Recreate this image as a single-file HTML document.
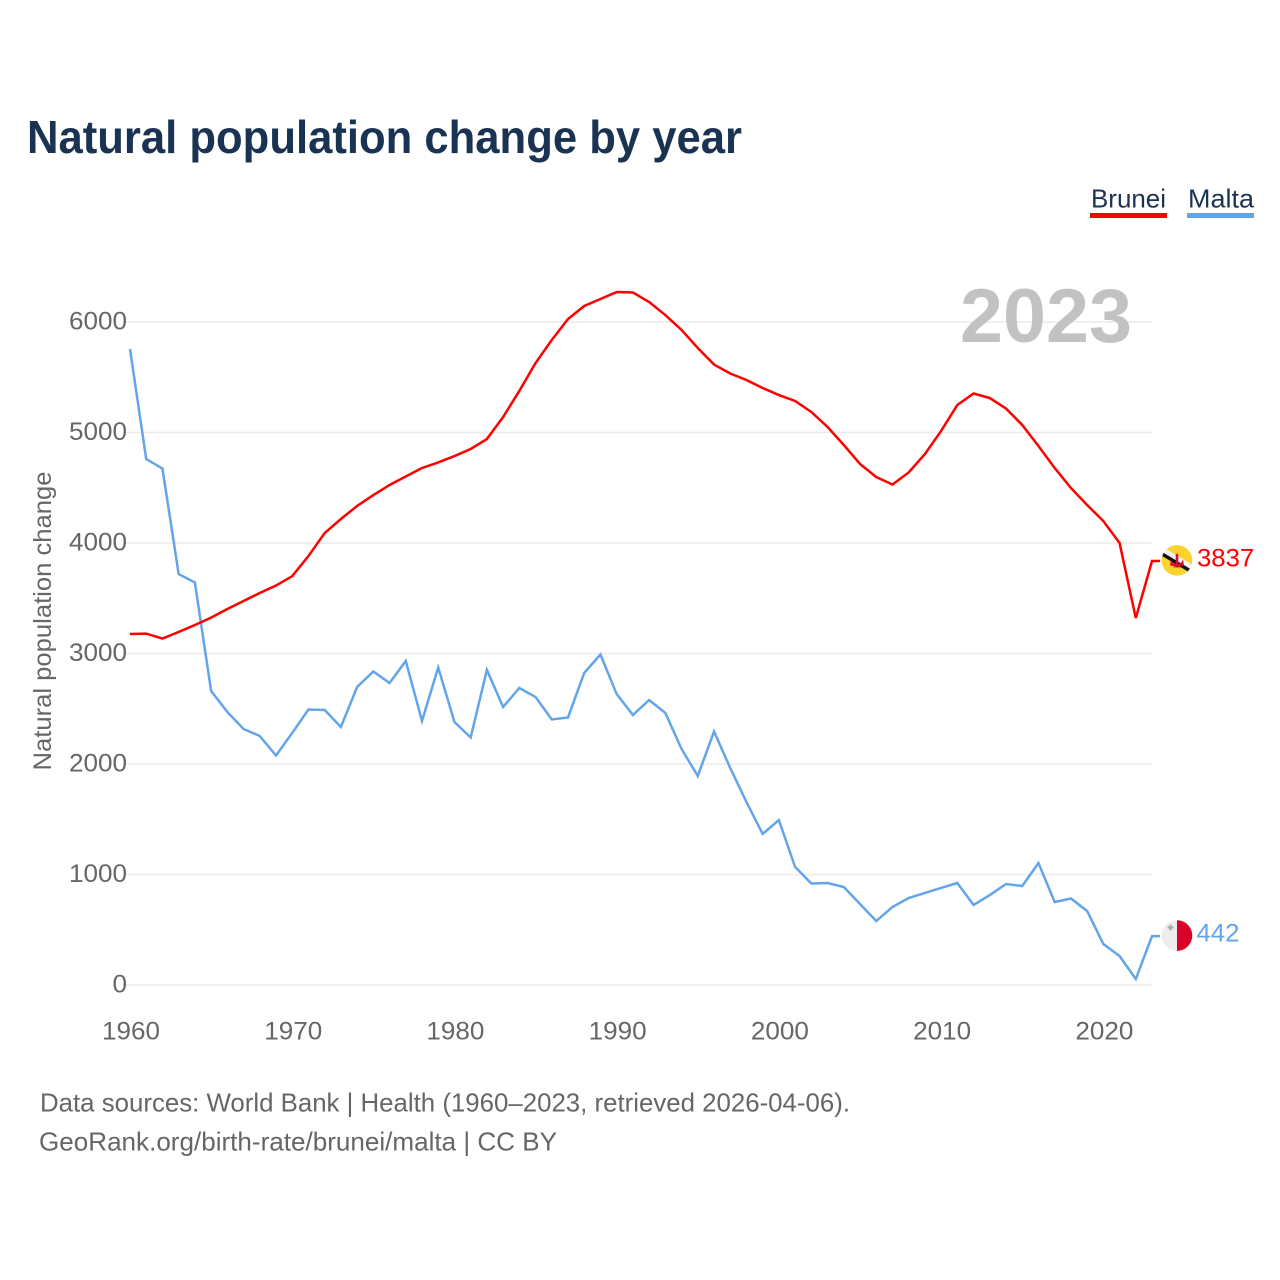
<!DOCTYPE html>
<html lang="en">
<head>
<meta charset="utf-8">
<title>Natural population change by year</title>
<style>
html,body{margin:0;padding:0;background:#fff;}
svg{display:block;font-family:"Liberation Sans",sans-serif;}
</style>
</head>
<body>
<svg id="chart" width="1280" height="1280" viewBox="0 0 1280 1280" xmlns="http://www.w3.org/2000/svg">
  <defs>
    <clipPath id="brunei-clip"><circle cx="0" cy="0" r="15.3"/></clipPath>
    <clipPath id="malta-clip"><circle cx="0" cy="0" r="15.3"/></clipPath>
  </defs>
  <rect width="1280" height="1280" fill="#fff"/>
  <text x="27" y="153" font-size="46" font-weight="700" fill="#1a3353" textLength="715" lengthAdjust="spacingAndGlyphs">Natural population change by year</text>
  <g>
    <text x="1091" y="207.5" font-size="26" fill="#1a3353" textLength="75" lengthAdjust="spacingAndGlyphs">Brunei</text>
    <rect x="1090" y="213" width="77" height="5" fill="#ff0000"/>
  </g>
  <g>
    <text x="1188" y="207.5" font-size="26" fill="#1a3353" textLength="66" lengthAdjust="spacingAndGlyphs">Malta</text>
    <rect x="1187" y="213" width="67" height="5" fill="#62a5ea"/>
  </g>
  <g id="grid"></g>
  <g id="yticks"></g>
  <g id="xticks"></g>
  <text transform="translate(51,621) rotate(-90)" text-anchor="middle" font-size="25" fill="#666" textLength="299" lengthAdjust="spacingAndGlyphs">Natural population change</text>
  <text x="960" y="342" font-size="76" font-weight="700" fill="#c2c2c2" textLength="172" lengthAdjust="spacingAndGlyphs">2023</text>
  <g id="series"></g>
  <g id="brunei-flag">
    <g clip-path="url(#brunei-clip)">
      <rect x="-16" y="-16" width="32" height="32" fill="#fcd22f"/>
      <polygon points="-18,-15.8 18,5.8 18,11.3 -18,-10.3" fill="#f2f2f2"/>
      <polygon points="-18,-10.3 18,11.3 18,15.3 -18,-6.3" fill="#111"/>
      <path d="M-6,-1 Q-4,4 0,4 Q4,4 6,-1 L7,5 L2,6 L4,7 L-4,7 L-2,6 L-7,5 Z" fill="#d40f34"/>
      <rect x="-1.3" y="-6.5" width="2.6" height="11" fill="#d40f34"/>
    </g>
  </g>
  <g id="malta-flag">
    <g clip-path="url(#malta-clip)">
      <rect x="-16" y="-16" width="16" height="32" fill="#ededed"/>
      <rect x="0" y="-16" width="16" height="32" fill="#d80027"/>
      <path d="M-7.5,-11 h2 v2 h2 v2 h-2 v2 h-2 v-2 h-2 v-2 h2 z" fill="#a8a8a8"/>
    </g>
  </g>
  <g id="end-labels"></g>
  <text x="40" y="1111.5" font-size="26" fill="#666" textLength="810" lengthAdjust="spacingAndGlyphs">Data sources: World Bank | Health (1960–2023, retrieved 2026-04-06).</text>
  <text x="39" y="1150.5" font-size="26" fill="#666" textLength="518" lengthAdjust="spacingAndGlyphs">GeoRank.org/birth-rate/brunei/malta | CC BY</text>
</svg>
<script>
const years = [1960,1961,1962,1963,1964,1965,1966,1967,1968,1969,1970,1971,1972,1973,1974,1975,1976,1977,1978,1979,1980,1981,1982,1983,1984,1985,1986,1987,1988,1989,1990,1991,1992,1993,1994,1995,1996,1997,1998,1999,2000,2001,2002,2003,2004,2005,2006,2007,2008,2009,2010,2011,2012,2013,2014,2015,2016,2017,2018,2019,2020,2021,2022,2023];
const bruneiValues = [3176,3180,3135,3195,3258,3325,3403,3475,3548,3615,3700,3882,4090,4217,4335,4434,4525,4602,4679,4729,4787,4851,4941,5140,5376,5629,5837,6027,6145,6208,6271,6267,6181,6063,5928,5765,5615,5534,5475,5403,5339,5285,5186,5050,4887,4715,4597,4529,4638,4805,5014,5249,5353,5312,5217,5068,4878,4679,4498,4344,4199,4000,3321,3837];
const maltaValues = [5756,4760,4674,3719,3643,2661,2471,2317,2253,2077,2281,2493,2489,2335,2697,2837,2733,2932,2389,2873,2380,2240,2851,2516,2688,2606,2403,2421,2824,2991,2633,2443,2579,2462,2136,1891,2294,1964,1656,1367,1493,1068,919,923,887,733,579,706,787,833,878,923,724,814,914,896,1104,751,783,670,371,262,54,442];
const yTickValues = [0,1000,2000,3000,4000,5000,6000];
const xTickValues = [1960,1970,1980,1990,2000,2010,2020];

const SVG_NS = 'http://www.w3.org/2000/svg';
function xScale(year) { return 130 + (year - 1960) * (1152 - 130) / 63; }
function yScale(value) { return 985 - value * (985 - 322) / 6000; }
function make(tag, attrs, parent) {
  const el = document.createElementNS(SVG_NS, tag);
  for (const k in attrs) el.setAttribute(k, attrs[k]);
  parent.appendChild(el);
  return el;
}
const grid = document.getElementById('grid');
const yticks = document.getElementById('yticks');
const xticks = document.getElementById('xticks');
const series = document.getElementById('series');
const endLabels = document.getElementById('end-labels');

yTickValues.forEach(function (v) {
  const line = make('line', {x1: 126, x2: 1152, y1: yScale(v), y2: yScale(v), stroke: '#ebebeb', 'stroke-width': 1.6}, grid);
  
  
  const label = make('text', {x: 127, y: yScale(v) + 7.5, 'text-anchor': 'end', 'font-size': 25, fill: '#666'}, yticks);
  
  
  label.textContent = String(v);
  label.setAttribute('textLength', String(v).length * 14.5);
  label.setAttribute('lengthAdjust', 'spacingAndGlyphs');
});
xTickValues.forEach(function (y) {
  const label = make('text', {x: xScale(y) + 1, y: 1039.5, 'text-anchor': 'middle', 'font-size': 25, fill: '#666', textLength: 58, lengthAdjust: 'spacingAndGlyphs'}, xticks);
  
  
  label.textContent = String(y);
});
function drawSeries(values, color) {
  const pts = values.map(function (v, i) { return xScale(years[i]).toFixed(2) + ',' + yScale(v).toFixed(2); });
  const last = values[values.length - 1];
  pts.push((xScale(years[years.length - 1]) + 8).toFixed(2) + ',' + yScale(last).toFixed(2));
  return make('polyline', {points: pts.join(' '), fill: 'none', stroke: color, 'stroke-width': 2.5, 'stroke-linejoin': 'miter'}, series);
}
const maltaLine = drawSeries(maltaValues, '#62a5ea');


const bruneiLine = drawSeries(bruneiValues, '#ff0000');



const bruneiLast = bruneiValues[bruneiValues.length - 1];
const maltaLast = maltaValues[maltaValues.length - 1];
document.getElementById('brunei-flag').setAttribute('transform', 'translate(1177,' + (yScale(bruneiLast) - 0.6) + ')');
document.getElementById('malta-flag').setAttribute('transform', 'translate(1177,' + (yScale(maltaLast) - 0.6) + ')');

const bruneiEnd = make('text', {x: 1197, y: yScale(bruneiLast) + 5.5, 'font-size': 25, fill: '#ff0000'}, endLabels);


bruneiEnd.textContent = String(bruneiLast);
bruneiEnd.setAttribute('textLength', String(bruneiLast).length * 14.3);
bruneiEnd.setAttribute('lengthAdjust', 'spacingAndGlyphs');
const maltaEnd = make('text', {x: 1196.5, y: yScale(maltaLast) + 5.5, 'font-size': 25, fill: '#62a5ea'}, endLabels);


maltaEnd.textContent = String(maltaLast);
maltaEnd.setAttribute('textLength', String(maltaLast).length * 14.3);
maltaEnd.setAttribute('lengthAdjust', 'spacingAndGlyphs');
</script>
</body>
</html>
